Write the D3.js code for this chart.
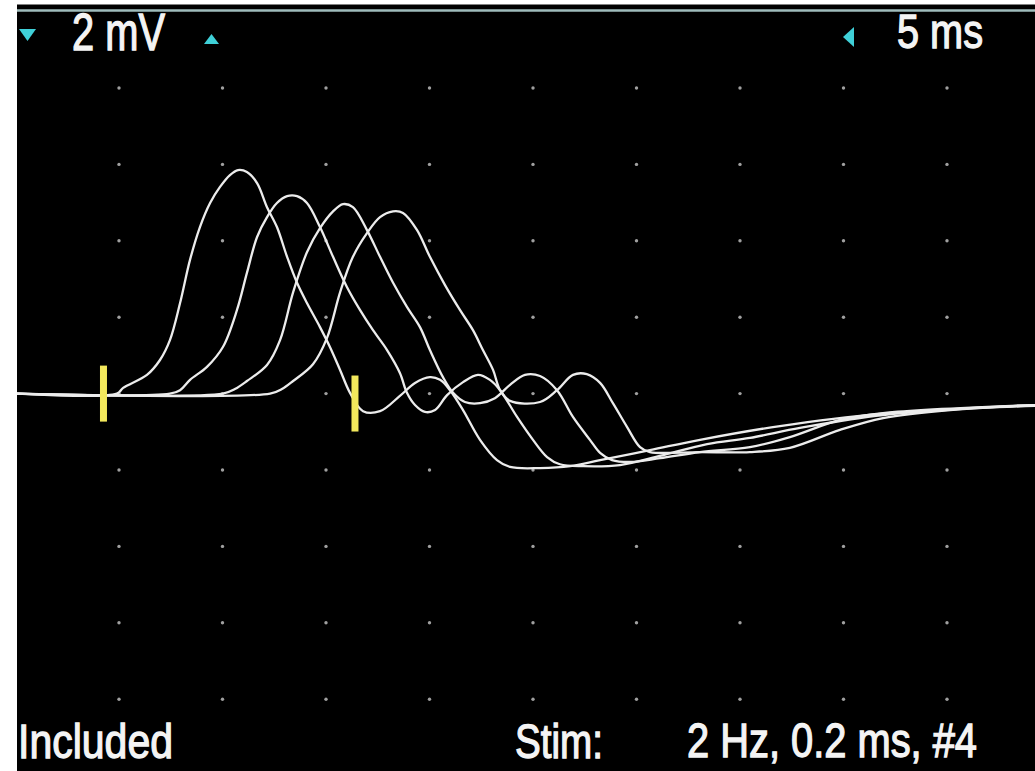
<!DOCTYPE html>
<html>
<head>
<meta charset="utf-8">
<script src="https://cdn.jsdelivr.net/npm/d3@7"></script>
<style>
  html, body { margin: 0; padding: 0; background: #ffffff; }
  svg { display: block; }
</style>
</head>
<body>
<svg id="chart" width="1035" height="771"></svg>
<script>
// ---- data: [time (ms), amplitude (mV)] ----
const trace1 = [[0,0],[4.90,0],[5.20,0.15],[6.35,0.49],[6.98,0.88],[7.46,1.40],[7.95,2.37],[8.43,3.50],[8.91,4.36],[9.40,4.99],[9.88,5.41],[10.36,5.72],[10.75,5.85],[11.18,5.80],[11.67,5.51],[12.15,4.88],[12.63,4.36],[13.12,3.58],[13.60,2.90],[14.08,2.37],[14.71,1.74],[15.19,1.22],[15.68,0.62],[16.16,0.02],[16.79,-0.46],[17.61,-0.46],[18.57,-0.06],[19.30,0.28],[20.02,0.43],[20.51,0.36],[20.99,0.09],[21.62,-0.43],[22.44,-1.21],[23.26,-1.74],[23.89,-1.92],[25.34,-1.95],[26.80,-1.90],[28.24,-1.74],[30.65,-1.48],[33.07,-1.21],[36.93,-0.85],[41.76,-0.53],[49.25,-0.30]];
const trace2 = [[0,0],[7.46,0],[7.95,0.09],[8.43,0.36],[9.25,0.70],[10.02,1.22],[10.70,2.19],[11.18,3.16],[11.67,4.10],[12.15,4.62],[12.63,4.99],[13.12,5.17],[13.60,5.17],[14.08,4.99],[14.71,4.36],[15.34,3.58],[16.01,2.79],[16.64,2.19],[17.27,1.66],[17.95,1.14],[18.57,0.54],[18.91,0.02],[19.30,-0.30],[19.78,-0.48],[20.27,-0.43],[20.85,-0.04],[21.62,0.30],[22.34,0.49],[22.92,0.36],[23.41,0.09],[24.23,-0.61],[25.00,-1.21],[25.68,-1.66],[26.30,-1.85],[27.42,-1.90],[29.20,-1.87],[31.14,-1.63],[33.41,-1.32],[35.48,-1.16],[37.90,-0.90],[41.91,-0.56],[49.25,-0.30]];
const trace3 = [[0,0],[10.02,0],[10.60,0.12],[11.18,0.33],[12.15,0.75],[12.78,1.40],[13.41,2.65],[14.08,3.70],[14.71,4.33],[15.34,4.77],[15.82,4.96],[16.30,4.88],[16.98,4.28],[17.61,3.58],[18.24,2.90],[18.91,2.27],[19.54,1.74],[20.02,1.14],[20.65,0.43],[21.14,0.02],[21.71,-0.22],[22.44,-0.25],[23.16,-0.12],[23.89,0.23],[24.61,0.49],[25.34,0.46],[26.16,0.09],[26.93,-0.61],[27.75,-1.21],[28.24,-1.55],[28.82,-1.74],[29.69,-1.79],[31.14,-1.69],[33.07,-1.53],[35.48,-1.40],[37.41,-1.14],[39.83,-0.69],[41.91,-0.51],[49.25,-0.30]];
const trace4 = [[0,0],[12.30,0],[12.87,0.12],[13.41,0.33],[14.37,0.77],[15.05,1.46],[15.68,2.65],[16.30,3.58],[16.98,4.20],[17.61,4.62],[18.24,4.77],[18.72,4.73],[19.40,4.28],[20.02,3.58],[20.75,2.84],[21.47,2.19],[22.10,1.66],[22.58,1.14],[23.07,0.62],[23.41,0.09],[23.89,-0.19],[25.34,-0.22],[26.16,0.09],[26.93,0.49],[27.60,0.51],[28.24,0.28],[28.86,-0.25],[29.54,-0.87],[30.17,-1.40],[30.65,-1.53],[33.07,-1.53],[35.48,-1.53],[37.41,-1.42],[39.83,-0.95],[41.91,-0.64],[45.15,-0.43],[49.25,-0.32]];
const traces = [trace1, trace2, trace3, trace4];
// latency cursors [time ms, mV]
const cursors = [[4.25, 0], [16.4, -0.26]];
// screen settings
const timeDomain = [0, 50];     // 5 ms/div x 10 div
const voltDomain = [-10, 10];   // 2 mV/div x 10 div
const timePerDiv = 5, voltPerDiv = 2;
const labels = { sens: "2 mV", sweep: "5 ms", status: "Included", stimLabel: "Stim:", stimValue: "2 Hz, 0.2 ms, #4" };

// ---- drawing ----
const svg = d3.select("#chart");
const x = d3.scaleLinear().domain(timeDomain).range([15.5, 1050.5]);
const y = d3.scaleLinear().domain(voltDomain).range([775.6, 11.6]);

svg.append("rect").attr("x", 17).attr("y", 4.5).attr("width", 1018).attr("height", 771).attr("fill", "#000");
svg.append("line").attr("x1", 17).attr("x2", 1035).attr("y1", 10.5).attr("y2", 10.5)
  .attr("stroke", "#9fbcbc").attr("stroke-width", 2.5);

// grid dots
const xt = d3.range(timeDomain[0] + timePerDiv, timeDomain[1], timePerDiv);
const yt = d3.range(voltDomain[0] + voltPerDiv, voltDomain[1] - 0.001, voltPerDiv);
const dots = [];
xt.forEach(a => yt.forEach(b => dots.push([a, b])));
svg.append("g").selectAll("circle").data(dots).join("circle")
  .attr("cx", d => x(d[0])).attr("cy", d => y(d[1])).attr("r", 1.7).attr("fill", "#a0a0a0");

// traces
const line = d3.line().x(d => x(d[0])).y(d => y(d[1])).curve(d3.curveCatmullRom.alpha(0.5));
svg.append("clipPath").attr("id", "clip").append("rect")
  .attr("x", 17).attr("y", 12).attr("width", 1018).attr("height", 760);
svg.append("g").attr("clip-path", "url(#clip)").selectAll("path").data(traces).join("path")
  .attr("d", line).attr("fill", "none").attr("stroke", "#ececec").attr("stroke-width", 2.3)
  .attr("stroke-linejoin", "round");

// cursors
svg.append("g").selectAll("rect").data(cursors).join("rect")
  .attr("x", d => x(d[0]) - 3.5).attr("y", d => y(d[1]) - 28)
  .attr("width", 7).attr("height", 56).attr("fill", "#f2e85c");

// cyan arrows
const cyan = "#3fd0d8";
svg.append("path").attr("d", "M19,29 L36,29 L27.5,41 Z").attr("fill", cyan);
svg.append("path").attr("d", "M204,44 L219,44 L211.5,34 Z").attr("fill", cyan);
svg.append("path").attr("d", "M843,37 L854,27 L854,47 Z").attr("fill", cyan);

// texts
const font = "'Liberation Sans', Arial, sans-serif";
function txt(s, xx, yy, size, len) {
  svg.append("text").attr("x", xx).attr("y", yy).attr("font-family", font)
    .attr("font-size", size).attr("fill", "#f4f4f4")
    .attr("stroke", "#f4f4f4").attr("stroke-width", 1.3)
    .attr("textLength", len).attr("lengthAdjust", "spacingAndGlyphs").text(s);
}
txt(labels.sens, 72, 50, 51, 93);
txt(labels.sweep, 897, 48, 48, 86);
txt(labels.status, 18, 758, 49, 155);
txt(labels.stimLabel, 515, 758, 49, 88);
txt(labels.stimValue, 687, 757, 48, 290);
</script>
</body>
</html>
